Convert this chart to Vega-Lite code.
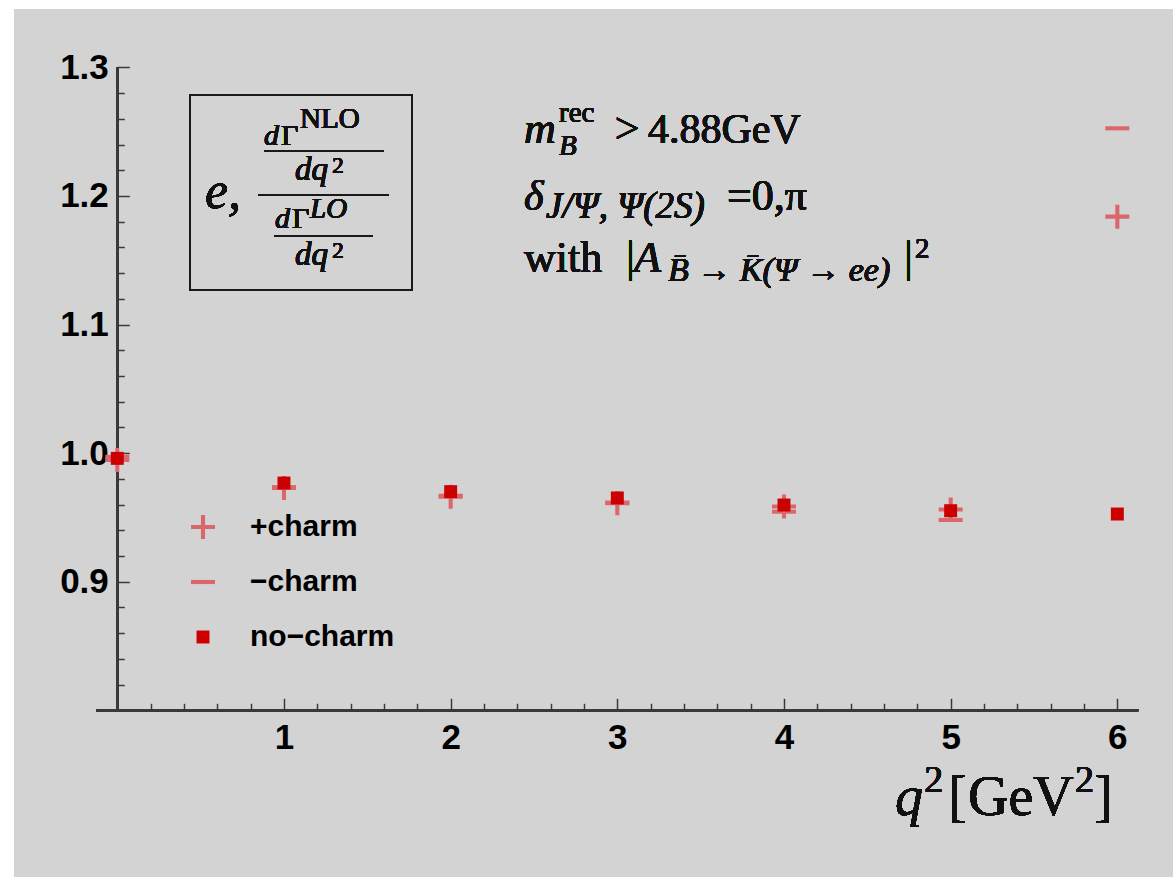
{
  "$schema": "https://vega.github.io/schema/vega-lite/v6.json",
  "width": 1159,
  "height": 868,
  "autosize": {"type": "none"},
  "padding": {"left": 14, "top": 9, "right": 0, "bottom": 1},
  "background": "white",
  "config": {"view": {"fill": "#d3d3d3", "stroke": null}, "text": {"fontWeight": "normal"}},
  "data": {"values": [
    {"q2": 0, "ratio": 0.9947, "series": "+charm"},
    {"q2": 1, "ratio": 0.9728, "series": "+charm"},
    {"q2": 2, "ratio": 0.9661, "series": "+charm"},
    {"q2": 3, "ratio": 0.961, "series": "+charm"},
    {"q2": 4, "ratio": 0.9585, "series": "+charm"},
    {"q2": 5, "ratio": 0.9561, "series": "+charm"},
    {"q2": 6, "ratio": 1.1839, "series": "+charm"},
    {"q2": 0, "ratio": 0.997, "series": "−charm"},
    {"q2": 1, "ratio": 0.9735, "series": "−charm"},
    {"q2": 2, "ratio": 0.9668, "series": "−charm"},
    {"q2": 3, "ratio": 0.9615, "series": "−charm"},
    {"q2": 4, "ratio": 0.9544, "series": "−charm"},
    {"q2": 5, "ratio": 0.948, "series": "−charm"},
    {"q2": 6, "ratio": 1.2526, "series": "−charm"},
    {"q2": 0, "ratio": 0.9959, "series": "no−charm"},
    {"q2": 1, "ratio": 0.9767, "series": "no−charm"},
    {"q2": 2, "ratio": 0.970, "series": "no−charm"},
    {"q2": 3, "ratio": 0.9651, "series": "no−charm"},
    {"q2": 4, "ratio": 0.9596, "series": "no−charm"},
    {"q2": 5, "ratio": 0.9552, "series": "no−charm"},
    {"q2": 6, "ratio": 0.9526, "series": "no−charm"}
  ]},
  "resolve": {"axis": {"x": "independent", "y": "independent"}},
  "layer": [
    {
      "mark": {"type": "rule", "stroke": "#3a3a3a", "strokeWidth": 1.8},
      "encoding": {
        "x": {"datum": -0.125, "type": "quantitative", "scale": {"domain": [-0.6198, 6.334], "nice": false, "zero": false},
          "axis": {"orient": "bottom", "offset": -166.7, "domain": false, "grid": false, "labels": false, "ticks": true, "tickSize": -12, "tickWidth": 1.5, "tickColor": "#3a3a3a", "values": [1, 2, 3, 4, 5, 6], "title": null}},
        "x2": {"datum": 6.125},
        "y": {"datum": 0.8, "type": "quantitative", "scale": {"domain": [0.6703, 1.3454], "nice": false, "zero": false},
          "axis": {"orient": "left", "offset": -103.3, "domain": false, "grid": false, "labels": false, "ticks": true, "tickSize": -12, "tickWidth": 1.5, "tickColor": "#3a3a3a", "values": [0.8, 0.9, 1.0, 1.1, 1.2, 1.3], "title": null}}
      }
    },
    {
      "mark": {"type": "rule", "stroke": "#3a3a3a", "strokeWidth": 1.8},
      "encoding": {
        "x": {"datum": 0, "type": "quantitative",
          "axis": {"orient": "bottom", "offset": -166.7, "domain": false, "grid": false, "labels": false, "ticks": true, "tickSize": -7, "tickWidth": 1.5, "tickColor": "#3a3a3a", "values": [0.2, 0.4, 0.6, 0.8, 1.2, 1.4, 1.6, 1.8, 2.2, 2.4, 2.6, 2.8, 3.2, 3.4, 3.6, 3.8, 4.2, 4.4, 4.6, 4.8, 5.2, 5.4, 5.6, 5.8], "title": null}},
        "y": {"datum": 0.8, "type": "quantitative",
          "axis": {"orient": "left", "offset": -103.3, "domain": false, "grid": false, "labels": false, "ticks": true, "tickSize": -7, "tickWidth": 1.5, "tickColor": "#3a3a3a", "values": [0.82, 0.84, 0.86, 0.88, 0.92, 0.94, 0.96, 0.98, 1.02, 1.04, 1.06, 1.08, 1.12, 1.14, 1.16, 1.18, 1.22, 1.24, 1.26, 1.28], "title": null}},
        "y2": {"datum": 1.3}
      }
    },
    {
      "mark": {"type": "point", "filled": true, "size": 576, "opacity": 1, "strokeWidth": 0},
      "encoding": {
        "x": {"field": "q2", "type": "quantitative",
          "axis": {"orient": "bottom", "offset": -166.7, "domain": false, "grid": false, "ticks": false, "values": [1, 2, 3, 4, 5, 6], "format": "d", "labelFont": "Liberation Sans", "labelFontWeight": "bold", "labelFontSize": 35, "labelColor": "#000000", "labelPadding": 10, "labelOverlap": false, "labelFlush": false, "title": null}},
        "y": {"field": "ratio", "type": "quantitative",
          "axis": {"orient": "left", "offset": -103.3, "domain": false, "grid": false, "ticks": false, "values": [0.9, 1.0, 1.1, 1.2, 1.3], "format": ".1f", "labelFont": "Liberation Sans", "labelFontWeight": "bold", "labelFontSize": 35, "labelColor": "#000000", "labelPadding": 9, "labelOverlap": false, "labelFlush": false, "title": null}},
        "color": {"field": "series", "type": "nominal",
          "scale": {"domain": ["+charm", "−charm", "no−charm"], "range": ["#d9676b", "#d9676b", "#cc0000"]},
          "legend": {"orient": "none", "legendX": 174, "legendY": 503, "title": null, "padding": 0, "labelFont": "Liberation Sans", "labelFontWeight": "bold", "labelFontSize": 30, "labelColor": "#000000", "symbolSize": 576, "symbolStrokeWidth": 0, "labelOffset": 32, "rowPadding": 25}},
        "shape": {"field": "series", "type": "nominal",
          "scale": {"domain": ["+charm", "−charm", "no−charm"], "range": ["M-1,-0.17H-0.17V-1H0.17V-0.17H1V0.17H0.17V1H-0.17V0.17H-1Z", "M-1,-0.17H1V0.17H-1Z", "M-0.54,-0.54H0.54V0.54H-0.54Z"]}}
      }
    },
    {
      "mark": {"type": "rect", "fill": null, "fillOpacity": 0, "stroke": "#1a1a1a", "strokeWidth": 1.8},
      "encoding": {
        "x": {"datum": 0.4362, "type": "quantitative", "axis": null}, "x2": {"datum": 1.7682},
        "y": {"datum": 1.1268, "type": "quantitative", "axis": null}, "y2": {"datum": 1.2785}
      }
    },
    {
      "mark": {"type": "rule", "stroke": "#1a1a1a", "strokeWidth": 1.5},
      "encoding": {"x": {"datum": 0.8442, "type": "quantitative", "axis": null}, "x2": {"datum": 1.6302}, "y": {"datum": 1.2007, "type": "quantitative", "axis": null}}
    },
    {
      "mark": {"type": "rule", "stroke": "#1a1a1a", "strokeWidth": 1.5},
      "encoding": {"x": {"datum": 0.8802, "type": "quantitative", "axis": null}, "x2": {"datum": 1.6002}, "y": {"datum": 1.235, "type": "quantitative", "axis": null}}
    },
    {
      "mark": {"type": "rule", "stroke": "#1a1a1a", "strokeWidth": 1.5},
      "encoding": {"x": {"datum": 0.9402, "type": "quantitative", "axis": null}, "x2": {"datum": 1.5342}, "y": {"datum": 1.1689, "type": "quantitative", "axis": null}}
    },
    {
      "mark": {"type": "text", "text": "e,", "font": "Liberation Serif", "fontStyle": "italic", "fontWeight": "normal", "fontSize": 52, "align": "left", "baseline": "alphabetic", "color": "#111111"},
      "encoding": {"x": {"datum": 0.5262, "type": "quantitative", "axis": null}, "y": {"datum": 1.1906, "type": "quantitative", "axis": null}}
    },
    {
      "mark": {"type": "text", "text": "d", "font": "Liberation Serif", "fontStyle": "italic", "fontWeight": "normal", "fontSize": 30, "align": "left", "baseline": "alphabetic", "color": "#111111"},
      "encoding": {"x": {"datum": 0.8802, "type": "quantitative", "axis": null}, "y": {"datum": 1.2396, "type": "quantitative", "axis": null}}
    },
    {
      "mark": {"type": "text", "text": "Γ", "font": "Liberation Serif", "fontWeight": "normal", "fontSize": 30, "align": "left", "baseline": "alphabetic", "color": "#111111"},
      "encoding": {"x": {"datum": 0.9822, "type": "quantitative", "axis": null}, "y": {"datum": 1.2396, "type": "quantitative", "axis": null}}
    },
    {
      "mark": {"type": "text", "text": "NLO", "font": "Liberation Serif", "fontWeight": "normal", "fontSize": 29, "align": "left", "baseline": "alphabetic", "color": "#111111"},
      "encoding": {"x": {"datum": 1.0962, "type": "quantitative", "axis": null}, "y": {"datum": 1.2529, "type": "quantitative", "axis": null}}
    },
    {
      "mark": {"type": "text", "text": "dq", "font": "Liberation Serif", "fontStyle": "italic", "fontWeight": "normal", "fontSize": 33, "align": "left", "baseline": "alphabetic", "color": "#111111"},
      "encoding": {"x": {"datum": 1.0662, "type": "quantitative", "axis": null}, "y": {"datum": 1.2124, "type": "quantitative", "axis": null}}
    },
    {
      "mark": {"type": "text", "text": "2", "font": "Liberation Serif", "fontWeight": "normal", "fontSize": 23, "align": "left", "baseline": "alphabetic", "color": "#111111"},
      "encoding": {"x": {"datum": 1.29, "type": "quantitative", "axis": null}, "y": {"datum": 1.2179, "type": "quantitative", "axis": null}}
    },
    {
      "mark": {"type": "text", "text": "d", "font": "Liberation Serif", "fontStyle": "italic", "fontWeight": "normal", "fontSize": 30, "align": "left", "baseline": "alphabetic", "color": "#111111"},
      "encoding": {"x": {"datum": 0.9462, "type": "quantitative", "axis": null}, "y": {"datum": 1.1751, "type": "quantitative", "axis": null}}
    },
    {
      "mark": {"type": "text", "text": "Γ", "font": "Liberation Serif", "fontWeight": "normal", "fontSize": 30, "align": "left", "baseline": "alphabetic", "color": "#111111"},
      "encoding": {"x": {"datum": 1.0482, "type": "quantitative", "axis": null}, "y": {"datum": 1.1751, "type": "quantitative", "axis": null}}
    },
    {
      "mark": {"type": "text", "text": "LO", "font": "Liberation Serif", "fontStyle": "italic", "fontWeight": "normal", "fontSize": 29, "align": "left", "baseline": "alphabetic", "color": "#111111"},
      "encoding": {"x": {"datum": 1.1562, "type": "quantitative", "axis": null}, "y": {"datum": 1.1829, "type": "quantitative", "axis": null}}
    },
    {
      "mark": {"type": "text", "text": "dq", "font": "Liberation Serif", "fontStyle": "italic", "fontWeight": "normal", "fontSize": 33, "align": "left", "baseline": "alphabetic", "color": "#111111"},
      "encoding": {"x": {"datum": 1.0662, "type": "quantitative", "axis": null}, "y": {"datum": 1.1463, "type": "quantitative", "axis": null}}
    },
    {
      "mark": {"type": "text", "text": "2", "font": "Liberation Serif", "fontWeight": "normal", "fontSize": 23, "align": "left", "baseline": "alphabetic", "color": "#111111"},
      "encoding": {"x": {"datum": 1.29, "type": "quantitative", "axis": null}, "y": {"datum": 1.1518, "type": "quantitative", "axis": null}}
    },
    {
      "mark": {"type": "text", "text": "m", "font": "Liberation Serif", "fontStyle": "italic", "fontWeight": "normal", "fontSize": 44, "align": "left", "baseline": "alphabetic", "color": "#111111"},
      "encoding": {"x": {"datum": 2.4402, "type": "quantitative", "axis": null}, "y": {"datum": 1.2412, "type": "quantitative", "axis": null}}
    },
    {
      "mark": {"type": "text", "text": "rec", "font": "Liberation Serif", "fontWeight": "normal", "fontSize": 29, "align": "left", "baseline": "alphabetic", "color": "#111111"},
      "encoding": {"x": {"datum": 2.65, "type": "quantitative", "axis": null}, "y": {"datum": 1.2575, "type": "quantitative", "axis": null}}
    },
    {
      "mark": {"type": "text", "text": "B", "font": "Liberation Serif", "fontStyle": "italic", "fontWeight": "normal", "fontSize": 29, "align": "left", "baseline": "alphabetic", "color": "#111111"},
      "encoding": {"x": {"datum": 2.65, "type": "quantitative", "axis": null}, "y": {"datum": 1.2319, "type": "quantitative", "axis": null}}
    },
    {
      "mark": {"type": "text", "text": ">", "font": "Liberation Serif", "fontWeight": "normal", "fontSize": 44, "align": "left", "baseline": "alphabetic", "color": "#111111"},
      "encoding": {"x": {"datum": 2.985, "type": "quantitative", "axis": null}, "y": {"datum": 1.2412, "type": "quantitative", "axis": null}}
    },
    {
      "mark": {"type": "text", "text": "4.88GeV", "font": "Liberation Serif", "fontWeight": "normal", "fontSize": 42, "align": "left", "baseline": "alphabetic", "color": "#111111"},
      "encoding": {"x": {"datum": 3.1842, "type": "quantitative", "axis": null}, "y": {"datum": 1.2412, "type": "quantitative", "axis": null}}
    },
    {
      "mark": {"type": "text", "text": "δ", "font": "Liberation Serif", "fontStyle": "italic", "fontWeight": "normal", "fontSize": 42, "align": "left", "baseline": "alphabetic", "color": "#111111"},
      "encoding": {"x": {"datum": 2.4402, "type": "quantitative", "axis": null}, "y": {"datum": 1.1891, "type": "quantitative", "axis": null}}
    },
    {
      "mark": {"type": "text", "text": "J/Ψ, Ψ(2S)", "font": "Liberation Serif", "fontStyle": "italic", "fontWeight": "normal", "fontSize": 37, "align": "left", "baseline": "alphabetic", "color": "#111111"},
      "encoding": {"x": {"datum": 2.5722, "type": "quantitative", "axis": null}, "y": {"datum": 1.1829, "type": "quantitative", "axis": null}}
    },
    {
      "mark": {"type": "text", "text": "=0,π", "font": "Liberation Serif", "fontWeight": "normal", "fontSize": 44, "align": "left", "baseline": "alphabetic", "color": "#111111"},
      "encoding": {"x": {"datum": 3.6582, "type": "quantitative", "axis": null}, "y": {"datum": 1.1891, "type": "quantitative", "axis": null}}
    },
    {
      "mark": {"type": "text", "text": "with", "font": "Liberation Serif", "fontWeight": "normal", "fontSize": 44, "align": "left", "baseline": "alphabetic", "color": "#111111"},
      "encoding": {"x": {"datum": 2.4402, "type": "quantitative", "axis": null}, "y": {"datum": 1.1408, "type": "quantitative", "axis": null}}
    },
    {
      "mark": {"type": "text", "text": "|", "font": "Liberation Serif", "fontWeight": "normal", "fontSize": 44, "align": "left", "baseline": "alphabetic", "color": "#111111"},
      "encoding": {"x": {"datum": 3.0522, "type": "quantitative", "axis": null}, "y": {"datum": 1.1408, "type": "quantitative", "axis": null}}
    },
    {
      "mark": {"type": "text", "text": "A", "font": "Liberation Serif", "fontStyle": "italic", "fontWeight": "normal", "fontSize": 44, "align": "left", "baseline": "alphabetic", "color": "#111111"},
      "encoding": {"x": {"datum": 3.1, "type": "quantitative", "axis": null}, "y": {"datum": 1.1408, "type": "quantitative", "axis": null}}
    },
    {
      "mark": {"type": "text", "text": "B̄ → K̄(Ψ → ee)", "font": "Liberation Serif", "fontStyle": "italic", "fontWeight": "normal", "fontSize": 34, "align": "left", "baseline": "alphabetic", "color": "#111111"},
      "encoding": {"x": {"datum": 3.3042, "type": "quantitative", "axis": null}, "y": {"datum": 1.1338, "type": "quantitative", "axis": null}}
    },
    {
      "mark": {"type": "text", "text": "|", "font": "Liberation Serif", "fontWeight": "normal", "fontSize": 44, "align": "left", "baseline": "alphabetic", "color": "#111111"},
      "encoding": {"x": {"datum": 4.7202, "type": "quantitative", "axis": null}, "y": {"datum": 1.1408, "type": "quantitative", "axis": null}}
    },
    {
      "mark": {"type": "text", "text": "2", "font": "Liberation Serif", "fontWeight": "normal", "fontSize": 29, "align": "left", "baseline": "alphabetic", "color": "#111111"},
      "encoding": {"x": {"datum": 4.7862, "type": "quantitative", "axis": null}, "y": {"datum": 1.1518, "type": "quantitative", "axis": null}}
    },
    {
      "mark": {"type": "text", "text": "q", "font": "Liberation Serif", "fontStyle": "italic", "fontWeight": "normal", "fontSize": 56, "align": "left", "baseline": "alphabetic", "color": "#111111"},
      "encoding": {"x": {"datum": 4.666, "type": "quantitative", "axis": null}, "y": {"datum": 0.7185, "type": "quantitative", "axis": null}}
    },
    {
      "mark": {"type": "text", "text": "2", "font": "Liberation Serif", "fontWeight": "normal", "fontSize": 38, "align": "left", "baseline": "alphabetic", "color": "#111111"},
      "encoding": {"x": {"datum": 4.842, "type": "quantitative", "axis": null}, "y": {"datum": 0.7364, "type": "quantitative", "axis": null}}
    },
    {
      "mark": {"type": "text", "text": "[", "font": "Liberation Serif", "fontWeight": "normal", "fontSize": 56, "align": "left", "baseline": "alphabetic", "color": "#111111"},
      "encoding": {"x": {"datum": 4.984, "type": "quantitative", "axis": null}, "y": {"datum": 0.7185, "type": "quantitative", "axis": null}}
    },
    {
      "mark": {"type": "text", "text": "GeV", "font": "Liberation Serif", "fontWeight": "normal", "fontSize": 56, "align": "left", "baseline": "alphabetic", "color": "#111111"},
      "encoding": {"x": {"datum": 5.104, "type": "quantitative", "axis": null}, "y": {"datum": 0.7185, "type": "quantitative", "axis": null}}
    },
    {
      "mark": {"type": "text", "text": "2", "font": "Liberation Serif", "fontWeight": "normal", "fontSize": 38, "align": "left", "baseline": "alphabetic", "color": "#111111"},
      "encoding": {"x": {"datum": 5.746, "type": "quantitative", "axis": null}, "y": {"datum": 0.7364, "type": "quantitative", "axis": null}}
    },
    {
      "mark": {"type": "text", "text": "]", "font": "Liberation Serif", "fontWeight": "normal", "fontSize": 56, "align": "left", "baseline": "alphabetic", "color": "#111111"},
      "encoding": {"x": {"datum": 5.86, "type": "quantitative", "axis": null}, "y": {"datum": 0.7185, "type": "quantitative", "axis": null}}
    }
  ]
}
